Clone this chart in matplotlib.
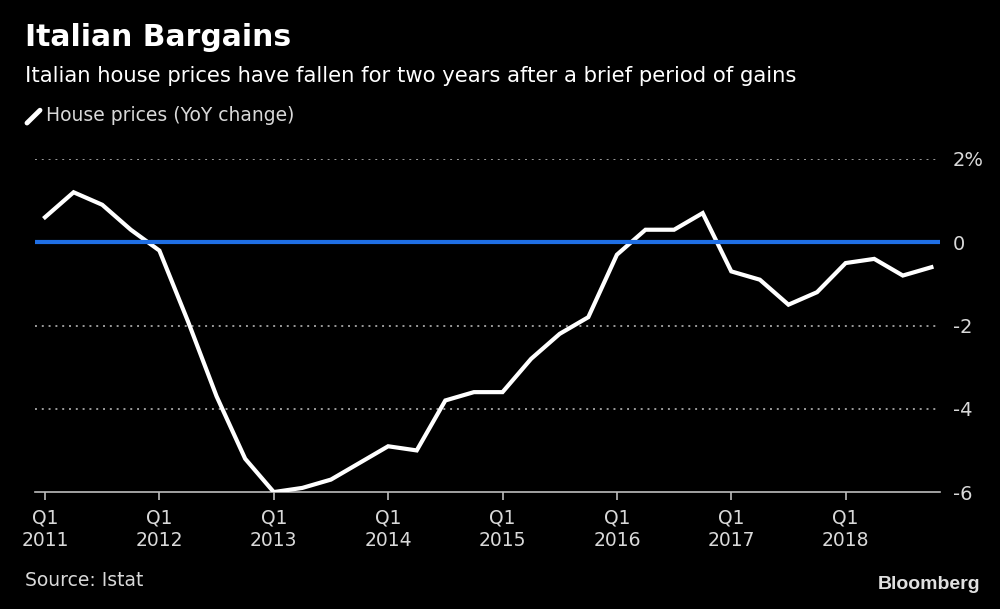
import numpy as np
import matplotlib
matplotlib.use("Agg")
import matplotlib.pyplot as plt

# quarterly YoY change in Italian house prices, Q1 2011 .. Q4 2018
quarters = [f"Q{q} {y}" for y in range(2011, 2019) for q in range(1, 5)]
house_prices = [0.6, 1.2, 0.9, 0.3,
                -0.2, -1.9, -3.7, -5.2,
                -6.0, -5.9, -5.7, -5.3,
                -4.9, -5.0, -3.8, -3.6,
                -3.6, -2.8, -2.2, -1.8,
                -0.3, 0.3, 0.3, 0.7,
                -0.7, -0.9, -1.5, -1.2,
                -0.5, -0.4, -0.8, -0.6]
tick_labels = [f"Q1\n{y}" for y in range(2011, 2019)]
y_ticks = [2, 0, -2, -4, -6]
y_labels = ["2%", "0", "-2", "-4", "-6"]

bg = "black"
fg = "#d9d9d9"

fig = plt.figure(figsize=(10, 6.09), dpi=100, facecolor=bg)
ax = fig.add_axes([0.035, 0.192, 0.905, 0.547], facecolor=bg)

x = np.arange(len(house_prices))
ax.plot(x, house_prices, color="white", lw=3, solid_joinstyle="miter", zorder=3)
ax.axhline(0, color="#1f6fe5", lw=3, zorder=4)

ax.set_xlim(-0.35, 31.3)
ax.set_ylim(-6, 2)

# dotted gridlines
for v in [2, -2, -4]:
    ax.axhline(v, color="#9a9a9a", lw=1.4, ls=(0, (1, 2.5)), zorder=1)

ax.yaxis.tick_right()
ax.set_yticks(y_ticks)
ax.set_yticklabels(y_labels)
ax.tick_params(axis="y", length=0, pad=9, labelsize=14, labelcolor=fg)

ax.set_xticks(x[::4])
ax.set_xticklabels(tick_labels)
ax.tick_params(axis="x", length=6, width=1.2, color="#bdbdbd", pad=6,
               labelsize=13.5, labelcolor=fg)

for s in ["top", "right", "left"]:
    ax.spines[s].set_visible(False)
ax.spines["bottom"].set_color("#bdbdbd")
ax.spines["bottom"].set_linewidth(1.2)

fig.text(0.025, 0.925, "Italian Bargains", color="white", fontsize=21.5,
         fontweight="bold", va="baseline")
fig.text(0.025, 0.865, "Italian house prices have fallen for two years after a brief period of gains",
         color="white", fontsize=15.2, va="baseline")
fig.lines.append(plt.Line2D([0.027, 0.040], [0.798, 0.819], transform=fig.transFigure,
                            color="white", lw=3.5, solid_capstyle="round"))
fig.text(0.046, 0.801, "House prices (YoY change)", color=fg, fontsize=13.5, va="baseline")

fig.text(0.025, 0.038, "Source: Istat", color=fg, fontsize=13.5, va="baseline")
fig.text(0.98, 0.033, "Bloomberg", color="#e0e0e0", fontsize=14, fontweight="bold",
         ha="right", va="baseline", family="Liberation Sans")

fig.savefig("out.png", dpi=100, facecolor=bg)
